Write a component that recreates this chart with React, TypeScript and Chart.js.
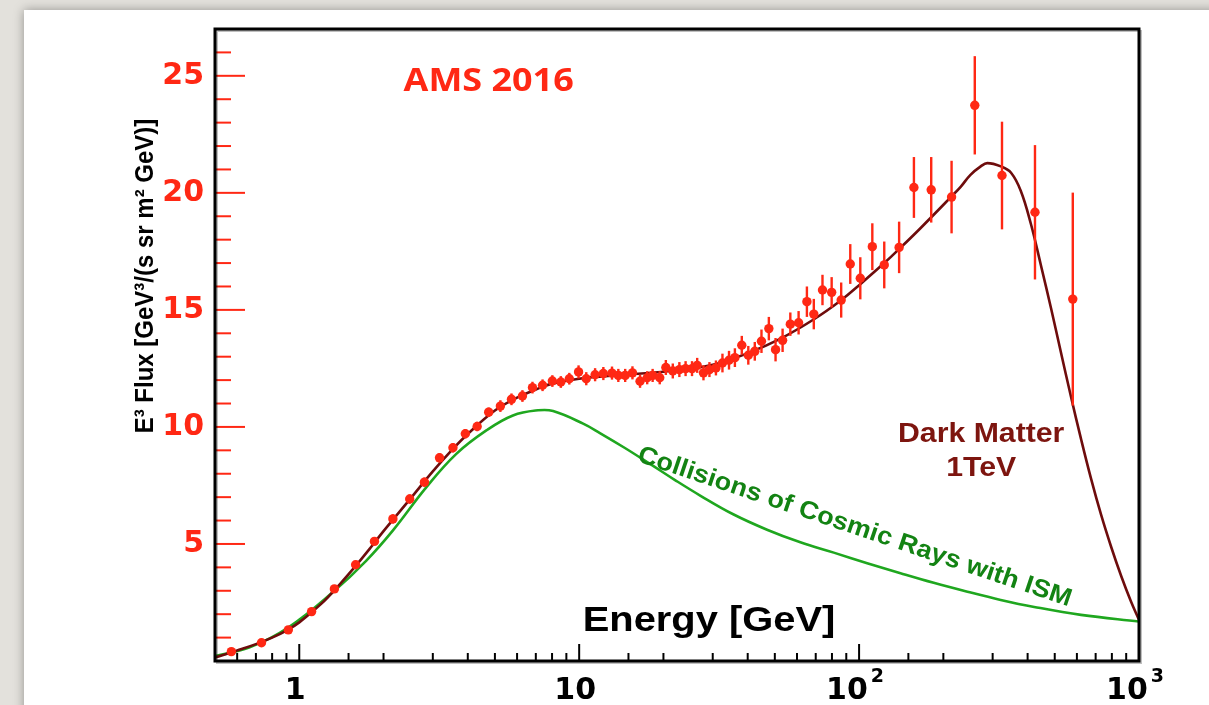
import { useEffect, useRef } from "react";
import { Chart, registerables } from "chart.js";

Chart.register(...registerables);

// AMS-02 positron measurement, E^3 * flux
const energy = [
  0.572, 0.733, 0.914, 1.107, 1.335, 1.59, 1.856, 2.16, 2.48, 2.8, 3.17, 3.54, 3.92, 4.32, 4.75,
  5.23, 5.73, 6.27, 6.81, 7.4, 8.02, 8.6, 9.22, 9.95, 10.6, 11.4, 12.2, 13.1, 13.8, 14.6, 15.5,
  16.5, 17.5, 18.3, 19.4, 20.4, 21.6, 22.8, 24.0, 25.3, 26.4, 27.8, 29.2, 30.8, 32.5, 34.3, 36.0,
  38.1, 40.2, 42.4, 44.8, 47.6, 50.3, 53.3, 56.8, 60.8, 65.1, 68.9, 74, 79.8, 86.3, 93.0, 101,
  111.5, 123, 139, 157, 181, 214, 259, 324, 425, 580,
];
const flux = [
  0.4, 0.78, 1.33, 2.11, 3.08, 4.11, 5.11, 6.07, 6.92, 7.64, 8.68, 9.11, 9.71, 10.02, 10.63,
  10.89, 11.18, 11.32, 11.68, 11.78, 11.96, 11.92, 12.06, 12.35, 12.06, 12.23, 12.28, 12.3, 12.2,
  12.2, 12.31, 11.95, 12.1, 12.2, 12.1, 12.54, 12.39, 12.45, 12.49, 12.49, 12.63, 12.31, 12.45,
  12.52, 12.73, 12.85, 12.96, 13.49, 13.06, 13.23, 13.66, 14.2, 13.3, 13.7, 14.39, 14.45, 15.35,
  14.82, 15.85, 15.75, 15.42, 16.96, 16.35, 17.7, 16.92, 17.67, 20.23, 20.13, 19.82, 23.74, 20.74,
  19.17, 15.46,
];
const fluxErr = [
  0.12, 0.12, 0.12, 0.12, 0.12, 0.12, 0.12,
  0.2, 0.2, 0.2, 0.2, 0.2, 0.2, 0.2, 0.2,
  0.25, 0.25, 0.25, 0.25, 0.25, 0.25, 0.25, 0.25,
  0.28, 0.28, 0.28, 0.28, 0.28, 0.28, 0.28, 0.28, 0.28, 0.28, 0.28, 0.28,
  0.32, 0.32, 0.32, 0.32, 0.32, 0.32, 0.32, 0.32, 0.32,
  0.4, 0.4, 0.4, 0.4, 0.4, 0.4,
  0.5, 0.5, 0.5, 0.5, 0.5, 0.5,
  0.65, 0.65, 0.65, 0.65,
  0.75,
  0.85, 0.9, 1.0, 1.0, 1.1, 1.3, 1.4, 1.55, 2.1, 2.3, 2.87, 4.55,
];

// Dark matter (1 TeV) + background model (dark red curve)
const modelEnergy = [
  0.5, 0.6, 0.7, 0.8, 0.9, 1.0, 1.2, 1.4, 1.6, 1.8, 2.0, 2.5, 3.0, 3.5, 4.0, 5.0, 6.0, 7.0, 8.0,
  10, 14, 20, 30, 40, 52, 69, 86, 101, 123, 139, 166, 214, 231, 250, 272, 287, 321, 349, 378, 411,
  446, 485, 526, 571, 620, 674, 732, 795, 863, 937, 1000,
];
const modelFlux = [
  0.15, 0.45, 0.72, 1.0, 1.3, 1.65, 2.45, 3.3, 4.1, 4.85, 5.55, 6.95, 8.1, 9.0, 9.7, 10.7, 11.25,
  11.6, 11.85, 12.06, 12.22, 12.36, 12.66, 13.15, 13.75, 14.6, 15.4, 16.1, 17.0, 17.6, 18.5, 19.85,
  20.27, 20.77, 21.13, 21.27, 21.13, 20.86, 20.09, 18.67, 16.92, 15.07, 13.19, 11.31, 9.51, 7.79,
  6.25, 4.88, 3.64, 2.53, 1.76,
];

// Collisions of cosmic rays with the ISM (green curve)
const ismEnergy = [
  0.5, 0.662, 0.913, 1.335, 1.733, 2.158, 2.842, 3.64, 4.66, 5.8, 7.13, 8.07, 10.33, 11.86, 14.57,
  17.91, 22.0, 27.05, 35.5, 46.9, 61.7, 81.2, 106.9, 140.6, 184.7, 243.8, 320.6, 422.2, 620.4, 1000,
];
const ismFlux = [
  0.21, 0.57, 1.43, 3.0, 4.28, 5.57, 7.42, 8.85, 9.85, 10.49, 10.71, 10.68, 10.14, 9.74, 9.1,
  8.42, 7.73, 7.07, 6.27, 5.61, 5.07, 4.63, 4.18, 3.75, 3.34, 2.96, 2.61, 2.31, 1.97, 1.69,
];

// Axis labels
const xDecades = [1, 10, 100, 1000];
const xTickBase = ["1", "10", "10", "10"];
const xTickExp = ["", "", "2", "3"];
const yLabelEvery = 5;

const RED = "#ff2814";
const DM_LINE = "#6e0c0c";
const DM_TEXT = "#7d150f";
const ISM_LINE = "#1fa71f";
const ISM_TEXT = "#138313";

type Note = {
  text: string;
  e: number;
  v: number;
  font: string;
  color: string;
  sx: number;
  angle: number;
};

const notes: Note[] = [
  { text: "AMS 2016", e: 4.75, v: 24.34, font: "700 33px 'Open Sans'", color: RED, sx: 1.09, angle: 0 },
  { text: "Energy [GeV]", e: 29.1, v: 1.28, font: "bold 35px 'Liberation Sans'", color: "#000", sx: 1.14, angle: 0 },
  { text: "Dark Matter", e: 273, v: 9.34, font: "bold 28px 'Liberation Sans'", color: DM_TEXT, sx: 1.08, angle: 0 },
  { text: "1TeV", e: 273, v: 7.92, font: "bold 28px 'Liberation Sans'", color: DM_TEXT, sx: 1.08, angle: 0 },
  {
    text: "Collisions of Cosmic Rays with ISM",
    e: 94.7,
    v: 5.44,
    font: "bold 25px 'Liberation Sans'",
    color: ISM_TEXT,
    sx: 1.08,
    angle: 18.6,
  },
];

const isDecade = (v: number) => {
  const lg = Math.log10(v);
  return Math.abs(lg - Math.round(lg)) < 1e-6;
};

const errorBars = {
  id: "errorBars",
  afterDatasetsDraw(chart: any) {
    const { ctx, scales } = chart;
    const x = scales.x;
    const y = scales.y;
    ctx.save();
    ctx.strokeStyle = RED;
    ctx.lineWidth = 2.4;
    energy.forEach((e, i) => {
      const px = x.getPixelForValue(e);
      ctx.beginPath();
      ctx.moveTo(px, y.getPixelForValue(flux[i] - fluxErr[i]));
      ctx.lineTo(px, y.getPixelForValue(flux[i] + fluxErr[i]));
      ctx.stroke();
    });
    ctx.restore();
  },
};

const frameAndText = {
  id: "frameAndText",
  afterDraw(chart: any) {
    const { ctx, chartArea: a, scales } = chart;
    const x = scales.x;
    const y = scales.y;
    ctx.save();

    // y ticks (red, inside)
    ctx.strokeStyle = RED;
    ctx.lineWidth = 2;
    y.ticks.forEach((t: any) => {
      if (t.value <= y.min || t.value >= y.max) return;
      const py = y.getPixelForValue(t.value);
      const len = t.value % yLabelEvery === 0 ? 30 : 16;
      ctx.beginPath();
      ctx.moveTo(a.left, py);
      ctx.lineTo(a.left + len, py);
      ctx.stroke();
    });

    // x ticks (black, inside)
    ctx.strokeStyle = "#000";
    ctx.lineWidth = 2;
    x.ticks.forEach((t: any) => {
      if (t.value <= x.min || t.value >= x.max) return;
      const px = x.getPixelForValue(t.value);
      const len = isDecade(t.value) ? 17 : 8;
      ctx.beginPath();
      ctx.moveTo(px, a.bottom);
      ctx.lineTo(px, a.bottom - len);
      ctx.stroke();
    });

    // x tick labels: 1, 10, 10^2, 10^3
    ctx.fillStyle = "#000";
    ctx.textBaseline = "alphabetic";
    ctx.textAlign = "left";
    const baseFont = "bold 30px 'DejaVu Sans'";
    const expFont = "bold 19px 'DejaVu Sans'";
    xDecades.forEach((d, i) => {
      const px = x.getPixelForValue(d);
      ctx.font = baseFont;
      const wb = ctx.measureText(xTickBase[i]).width;
      ctx.font = expFont;
      const we = xTickExp[i] ? ctx.measureText(xTickExp[i]).width + 3 : 0;
      const start = px - (wb + we) / 2 - 4;
      ctx.font = baseFont;
      ctx.fillText(xTickBase[i], start, a.bottom + 38);
      if (xTickExp[i]) {
        ctx.font = expFont;
        ctx.fillText(xTickExp[i], start + wb + 3, a.bottom + 21);
      }
    });

    // frame with light shadow
    ctx.strokeStyle = "rgba(0,0,0,0.25)";
    ctx.lineWidth = 2;
    ctx.strokeRect(a.left + 2, a.top + 2, a.right - a.left, a.bottom - a.top);
    ctx.strokeStyle = "#000";
    ctx.lineWidth = 3;
    ctx.strokeRect(a.left, a.top, a.right - a.left, a.bottom - a.top);

    // annotations
    notes.forEach((n) => {
      ctx.save();
      ctx.translate(x.getPixelForValue(n.e), y.getPixelForValue(n.v));
      if (n.angle) ctx.rotate((n.angle * Math.PI) / 180);
      ctx.scale(n.sx, 1);
      ctx.font = n.font;
      ctx.fillStyle = n.color;
      ctx.textAlign = "center";
      ctx.textBaseline = "alphabetic";
      ctx.fillText(n.text, 0, 0);
      ctx.restore();
    });

    // y-axis title
    ctx.save();
    ctx.translate(a.left - 69, a.top + 247);
    ctx.rotate(-Math.PI / 2);
    ctx.scale(1, 1.1);
    ctx.font = "bold 24px 'Liberation Sans'";
    ctx.fillStyle = "#000";
    ctx.textAlign = "center";
    ctx.textBaseline = "middle";
    ctx.fillText("E³ Flux [GeV³/(s sr m² GeV)]", 0, 0);
    ctx.restore();

    ctx.restore();
  },
};

export default function App() {
  const ref = useRef<HTMLCanvasElement>(null);

  useEffect(() => {
    if (!ref.current) return;
    const chart = new Chart(ref.current, {
      type: "line",
      data: {
        datasets: [
          {
            label: "AMS 2016",
            data: energy.map((e, i) => ({ x: e, y: flux[i] })),
            showLine: false,
            pointRadius: 4.7,
            pointBackgroundColor: RED,
            pointBorderWidth: 0,
            borderColor: RED,
            order: 0,
          },
          {
            label: "Dark Matter 1TeV",
            data: modelEnergy.map((e, i) => ({ x: e, y: modelFlux[i] })),
            borderColor: DM_LINE,
            borderWidth: 2.6,
            pointRadius: 0,
            tension: 0.4,
            order: 1,
          },
          {
            label: "Collisions of Cosmic Rays with ISM",
            data: ismEnergy.map((e, i) => ({ x: e, y: ismFlux[i] })),
            borderColor: ISM_LINE,
            borderWidth: 2.6,
            pointRadius: 0,
            tension: 0.4,
            order: 2,
          },
        ],
      },
      options: {
        responsive: false,
        devicePixelRatio: 1,
        animation: false,
        layout: { padding: { top: 29, right: 70, left: 0, bottom: 0 } },
        plugins: { legend: { display: false }, tooltip: { enabled: false } },
        scales: {
          x: {
            type: "logarithmic",
            min: 0.5,
            max: 1000,
            grid: { display: false, drawTicks: false },
            border: { display: false },
            afterFit: (s: any) => {
              s.height = 44;
            },
            ticks: { display: false, autoSkip: false, maxRotation: 0, minRotation: 0 },
          },
          y: {
            type: "linear",
            min: 0,
            max: 27,
            grid: { display: false, drawTicks: false },
            border: { display: false },
            afterFit: (s: any) => {
              s.width = 215;
            },
            ticks: {
              stepSize: 1,
              autoSkip: false,
              padding: 11,
              color: RED,
              font: { family: "DejaVu Sans", size: 30, weight: "bold" },
              callback: (value: any) => {
                const v = Number(value);
                return v > 0 && v % yLabelEvery === 0 ? String(v) : "";
              },
            },
          },
        },
      },
      plugins: [errorBars, frameAndText],
    } as any);
    return () => chart.destroy();
  }, []);

  return (
    <div
      style={{
        position: "fixed",
        left: 0,
        top: 0,
        width: 1209,
        height: 705,
        background: "#e3e1dc",
        overflow: "hidden",
      }}
    >
      <div
        style={{
          position: "absolute",
          left: 24,
          top: 10,
          right: -30,
          bottom: -30,
          background: "#ffffff",
          boxShadow: "0 0 10px rgba(0,0,0,0.35)",
        }}
      />
      <canvas
        ref={ref}
        width={1209}
        height={705}
        style={{ position: "absolute", left: 0, top: 0, width: 1209, height: 705 }}
      />
    </div>
  );
}
